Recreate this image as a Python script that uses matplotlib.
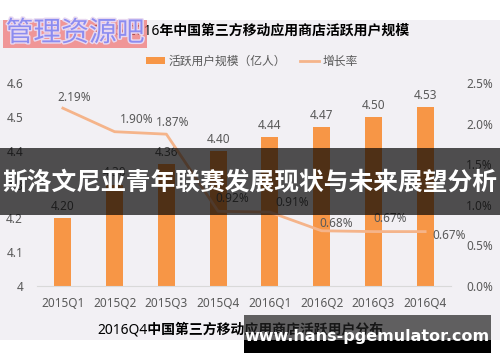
import matplotlib
matplotlib.use('Agg')
import matplotlib.pyplot as plt
import matplotlib.patheffects as pe
from matplotlib.patches import Rectangle
from matplotlib.lines import Line2D
from matplotlib.ticker import FuncFormatter

plt.rcParams['font.family'] = ['Noto Sans', 'Noto Sans CJK SC', 'DejaVu Sans']

# === Data ===
quarters = ['2015Q1', '2015Q2', '2015Q3', '2015Q4', '2016Q1', '2016Q2', '2016Q3', '2016Q4']
users = [4.20, 4.30, 4.36, 4.40, 4.44, 4.47, 4.50, 4.53]   # 亿人
growth = [2.19, 1.90, 1.87, 0.92, 0.91, 0.68, 0.67, 0.67]  # %

title = '2015-2016年中国第三方移动应用商店活跃用户规模'
sub_title = '2016Q4中国第三方移动应用商店活跃用户分布'
banner = '斯洛文尼亚青年联赛发展现状与未来展望分析'
site = 'www.hans-pgemulator.com'
stamp = '管理资源吧'

bar_color = '#f79646'
line_color = '#f5b48a'
text_gray = '#595959'

fig = plt.figure(figsize=(5, 3.62), dpi=100)
W, H = 500, 362

def box(x0, y0, x1, y1, **kw):
    # pixel box (top-left origin) -> figure patch
    fig.patches.append(Rectangle((x0 / W, 1 - y1 / H), (x1 - x0) / W, (y1 - y0) / H,
                                 transform=fig.transFigure, **kw))

# light background of the screenshot area
box(0, 20, 500, 340, facecolor='#f2f0f4', edgecolor='none', zorder=-1)

ax = fig.add_axes([37 / W, 1 - 286 / H, 414 / W, 203 / H])
ax.set_facecolor('none')
x = list(range(len(quarters)))
ax.bar(x, users, width=0.33, color=bar_color, zorder=2)
ax.set_ylim(4, 4.6)
ax.set_xlim(-0.5, len(quarters) - 0.5)
ax.set_yticks([4, 4.1, 4.2, 4.3, 4.4, 4.5, 4.6])
ax.set_yticklabels(['4', '4.1', '4.2', '4.3', '4.4', '4.5', '4.6'])
ax.set_xticks(x)
ax.set_xticklabels(quarters)
for s in ['top', 'left', 'right']:
    ax.spines[s].set_visible(False)
ax.spines['bottom'].set_color('#d9d9d9')
ax.tick_params(length=0, labelsize=8.5, colors=text_gray)
ax.tick_params(axis='y', pad=10)
ax.tick_params(axis='x', pad=8)

for xi, v in zip(x, users):
    ax.annotate(f'{v:.2f}', (xi, v), xytext=(0, 5), textcoords='offset pixels',
                ha='center', va='bottom', fontsize=8.5, color=text_gray)

ax2 = ax.twinx()
ax2.plot(x, [g / 100 for g in growth], color=line_color, linewidth=2, zorder=3)
ax2.set_ylim(0, 0.025)
ax2.set_yticks([0, 0.005, 0.01, 0.015, 0.02, 0.025])
ax2.yaxis.set_major_formatter(FuncFormatter(lambda v, p: f'{v * 100:.1f}%'))
for s in ['top', 'left', 'right', 'bottom']:
    ax2.spines[s].set_visible(False)
ax2.tick_params(length=0, labelsize=8.5, colors=text_gray, pad=11)

# growth labels, nudged like the original excel chart
nudges = [(-5, 4), (5, 6), (-10, 5), (-3, 6), (5, 3), (-2, 1), (0, 7), (7, -4)]
for xi, g, (dx, dy) in zip(x, growth, nudges):
    ax2.annotate(f'{g:.2f}%', (xi, g / 100), xytext=(dx, dy), textcoords='offset pixels',
                 ha='left', va='bottom' if dy > 0 else 'center',
                 fontsize=8.5, color=text_gray)

# title + legend
fig.text(251 / W, 1 - 31 / H, title, ha='center', va='center', fontsize=10,
         fontweight='bold', color='black')
handles = [Rectangle((0, 0), 1, 1, facecolor=bar_color, edgecolor='none'),
           Line2D([0], [0], color=line_color, linewidth=2)]
fig.legend(handles, ['活跃用户规模（亿人）', '增长率'], loc='center',
           bbox_to_anchor=(252 / W, 1 - 61 / H), ncol=2, frameon=False,
           fontsize=8.5, labelcolor=text_gray, handlelength=1.6, handleheight=0.5,
           handletextpad=0.3, columnspacing=1.2)

fig.text(97 / W, 1 - 330 / H, sub_title, ha='left', va='center', fontsize=10,
         fontweight='bold', color='black')

# overlays: stamp, banner, site badge
box(3, 20, 147, 48, facecolor='#f07474', edgecolor='none', alpha=0.72, zorder=5)
fig.text(75 / W, 1 - 34 / H, stamp, ha='center', va='center', fontsize=20,
         color='#8c8cf0', zorder=6,
         path_effects=[pe.withStroke(linewidth=2, foreground='#e8d8f0')])

box(0, 148, 500, 215, facecolor='black', edgecolor='none', alpha=0.68, zorder=5)
fig.text(250 / W, 1 - 183 / H, banner, ha='center', va='center', fontsize=17.8,
         fontweight='bold', color='white', zorder=6)

box(244, 315, 491, 340, facecolor='#222222', edgecolor='none', alpha=0.7, zorder=5)
box(244, 340, 491, 353, facecolor='black', edgecolor='none', zorder=5)
fig.text(367 / W, 1 - 336 / H, site, ha='center', va='center', fontsize=11.5,
         fontweight='bold', color='white', family='DejaVu Sans', zorder=6)

fig.savefig('out.png', dpi=100)
